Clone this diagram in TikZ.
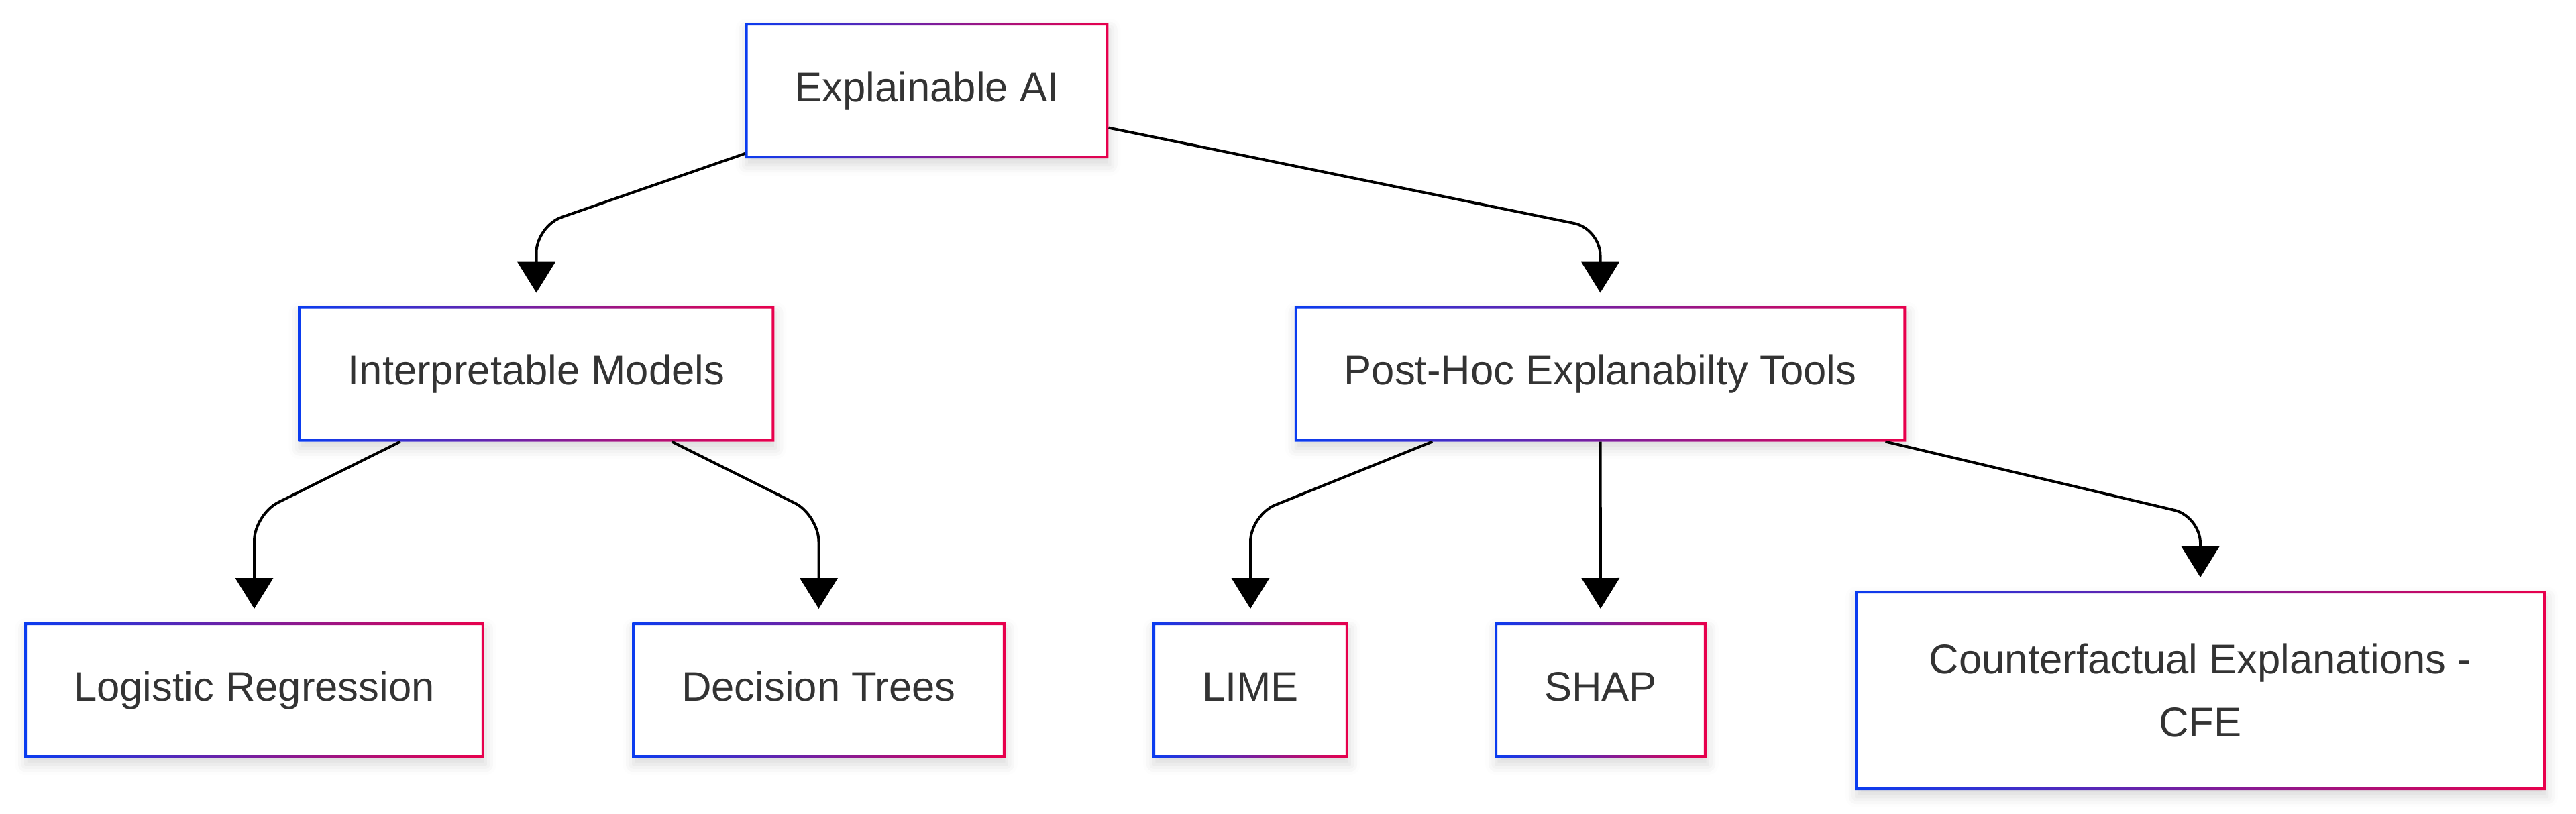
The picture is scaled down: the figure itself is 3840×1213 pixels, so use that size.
\documentclass[tikz,border=0pt]{standalone}
\usepackage{fontspec}
\setmainfont{Liberation Sans}
\usetikzlibrary{arrows.meta, calc, shadows.blur}
\definecolor{edgeblue}{RGB}{10,60,240}
\definecolor{edgered}{RGB}{232,0,76}
\definecolor{textgray}{RGB}{51,51,51}
\tikzset{
    my-box/.style={
        shape=rectangle, fill=white, text=textgray, inner xsep=18.5pt, inner ysep=0pt,
        minimum height=50.5pt, outer sep=0pt, font=\fontsize{15.4}{23.3}\selectfont,
        text height=11.2pt, text depth=3.2pt,
        blur shadow={shadow xshift=0.5pt, shadow yshift=-2.5pt, shadow blur radius=4pt, shadow opacity=15}
    },
    my-border/.style={
        left color=edgeblue, right color=edgered, even odd rule
    },
    my-arrow/.style={
        line width=1pt, rounded corners=10pt, shorten >=5pt, -{Triangle[length=11.5pt, width=14pt]}
    },
}

\begin{document}
\begin{tikzpicture}[x=0.25pt, y=-0.25pt]

        \useasboundingbox (0,0) rectangle (3840,1213);

        % ROOT
        \node[my-box] (EAI) at (1381.5, 135) {Explainable AI};

        % SECOND LEVEL
        \node[my-box] (IM) at (799.5, 557.5)  {Interpretable Models};
        \node[my-box] (PH) at (2385.5, 557.5) {Post-Hoc Explanabilty Tools};

        % LEAVES
        \node[my-box] (LR)   at (379, 1029)    {Logistic Regression};
        \node[my-box] (DT)   at (1220.5, 1029) {Decision Trees};
        \node[my-box] (LIME) at (1864, 1029)   {LIME};
        \node[my-box] (SHAP) at (2386, 1029)   {SHAP};
        \node[my-box, minimum width=257.5pt, minimum height=74.25pt, align=center, text height=, text depth=]
                      (CFE)  at (3280, 1029.5) {Counterfactual Explanations -\\CFE};

        % GRADIENT BORDERS
        \shade[my-border] (EAI.south west) rectangle (EAI.north east) ([shift={(1pt,1pt)}]EAI.south west) rectangle ([shift={(-1pt,-1pt)}]EAI.north east);
        \shade[my-border] (IM.south west) rectangle (IM.north east) ([shift={(1pt,1pt)}]IM.south west) rectangle ([shift={(-1pt,-1pt)}]IM.north east);
        \shade[my-border] (PH.south west) rectangle (PH.north east) ([shift={(1pt,1pt)}]PH.south west) rectangle ([shift={(-1pt,-1pt)}]PH.north east);
        \shade[my-border] (LR.south west) rectangle (LR.north east) ([shift={(1pt,1pt)}]LR.south west) rectangle ([shift={(-1pt,-1pt)}]LR.north east);
        \shade[my-border] (DT.south west) rectangle (DT.north east) ([shift={(1pt,1pt)}]DT.south west) rectangle ([shift={(-1pt,-1pt)}]DT.north east);
        \shade[my-border] (LIME.south west) rectangle (LIME.north east) ([shift={(1pt,1pt)}]LIME.south west) rectangle ([shift={(-1pt,-1pt)}]LIME.north east);
        \shade[my-border] (SHAP.south west) rectangle (SHAP.north east) ([shift={(1pt,1pt)}]SHAP.south west) rectangle ([shift={(-1pt,-1pt)}]SHAP.north east);
        \shade[my-border] (CFE.south west) rectangle (CFE.north east) ([shift={(1pt,1pt)}]CFE.south west) rectangle ([shift={(-1pt,-1pt)}]CFE.north east);

        % BEND POINTS
        \coordinate (IMBEND)   at (IM.north |- 0,337);
        \coordinate (PHBEND)   at (PH.north |- 0,341);
        \coordinate (LRBEND)   at (LR.north |- 0,767);
        \coordinate (DTBEND)   at (DT.north |- 0,768);
        \coordinate (LIMEBEND) at (LIME.north |- 0,768);
        \coordinate (CFEBEND)  at (CFE.north |- 0,770);

        % CONNECTIONS
        \draw[my-arrow] (EAI) -- (IMBEND) -- (IM.north);
        \draw[my-arrow] (EAI) -- (PHBEND) -- (PH.north);
        \draw[my-arrow] (IM) -- (LRBEND) -- (LR.north);
        \draw[my-arrow] (IM) -- (DTBEND) -- (DT.north);
        \draw[my-arrow] (PH) -- (LIMEBEND) -- (LIME.north);
        \draw[my-arrow] (PH) -- (SHAP);
        \draw[my-arrow] (PH) -- (CFEBEND) -- (CFE.north);

    \end{tikzpicture}
\end{document}
